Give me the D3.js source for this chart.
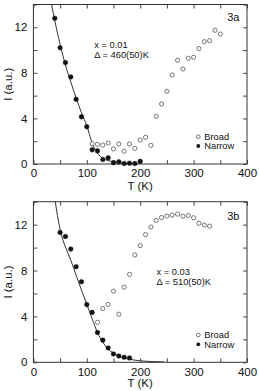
<!DOCTYPE html>
<html><head><meta charset="utf-8">
<script src="https://cdn.jsdelivr.net/npm/d3@7"></script>
<style>
html,body{margin:0;padding:0;background:#fff;}
svg{display:block;font-family:"Liberation Sans",Arial,Helvetica,sans-serif;}
</style></head>
<body>
<svg id="chart" width="259" height="391"></svg>
<script>
// ---- Panel 3a (x = 0.01) ----
const broadT_a = [110,120,130,140,150,160,170,180,190,200,210,220,230,240,250,260,270,280,290,300,310,320,330,340,350];
const broadI_a = [1.78,1.72,1.66,1.84,1.32,1.76,1.12,1.75,1.37,2.1,2.35,1.64,4.18,5.27,6.38,7.81,9.1,8.34,9.28,9.37,10.13,10.74,10.83,11.74,11.41];
const narrowT_a = [40,50,60,70,80,90,100,110,120,130,140,150,160,170,180,190,200];
const narrowI_a = [12.79,10.21,8.9,7.64,5.68,4.14,3.27,1.24,1.15,0.4,0.54,0.12,0.19,0.05,0.07,0.04,0.24];
const fitT_a = [34,40,50,60,70,80,90,100,110,120,130,140,150,160,180,200];
const fitI_a = [14,12.6,10.5,8.7,7.2,5.8,4.5,3.35,1.85,0.95,0.5,0.3,0.2,0.12,0.04,0.01];
// ---- Panel 3b (x = 0.03) ----
const broadT_b = [120,130,140,150,160,170,180,190,200,210,220,230,240,250,260,270,280,290,300,310,320,330];
const broadI_b = [3.49,4.69,5.04,6.2,4.19,6.55,7.67,9.36,10.17,11.13,11.79,12.37,12.62,12.75,12.83,12.92,12.73,12.8,12.6,12.12,11.97,11.87];
const narrowT_b = [50,60,70,80,90,100,110,120,130,140,150,160,170,180];
const narrowI_b = [11.32,10.97,9.87,8.33,7.02,5.03,4.35,2.6,1.93,1.25,0.73,0.55,0.44,0.38];
const fitT_b = [41,45,50,55,60,70,80,90,100,110,120,130,140,150,160,180,200,220,245];
const fitI_b = [14,12.8,11.6,10.7,10.05,8.9,7.6,6.3,5.05,3.8,2.6,1.75,1.15,0.8,0.52,0.27,0.13,0.07,0.03];
// ---- Axis ticks / labels ----
const xLabelTicks = [0,100,200,300,400];
const xMinorTicks = [0,50,100,150,200,250,300,350,400];
const yLabelTicks = [0,4,8,12];
const yMinorTicks = [0,2,4,6,8,10,12,14];
const panels = [
  {id:"3a", top:4.5, bottom:164, bT:broadT_a, bI:broadI_a, nT:narrowT_a, nI:narrowI_a, fT:fitT_a, fI:fitI_a,
   note:["x = 0.01","\u0394 = 460(50)K"], noteX:94.3, noteY:48.3, legY:136.7, labelY:20.8, titleOff:26, pad:4.6},
  {id:"3b", top:201.7, bottom:362.3, bT:broadT_b, bI:broadI_b, nT:narrowT_b, nI:narrowI_b, fT:fitT_b, fI:fitI_b,
   note:["x = 0.03","\u0394 = 510(50)K"], noteX:156.5, noteY:275, legY:335, labelY:220, titleOff:24.5, pad:5.6}
];
const svg = d3.select("#chart");
const left = 33.4, right = 247;
const ink = "#111";
const x = d3.scaleLinear().domain([0,400]).range([left,right]);

panels.forEach((p,i)=>{
  const y = d3.scaleLinear().domain([0,14]).range([p.bottom,p.top]);
  const g = svg.append("g");
  const clipId = "clip"+i;
  g.append("clipPath").attr("id",clipId).append("rect")
    .attr("x",left).attr("y",p.top).attr("width",right-left).attr("height",p.bottom-p.top);

  // inward ticks on all four sides
  const tk = 4;
  const ax = [
    g.append("g").attr("transform",`translate(0,${p.bottom})`).call(d3.axisBottom(x).tickValues(xMinorTicks).tickSize(-tk).tickFormat("")),
    g.append("g").attr("transform",`translate(0,${p.top})`).call(d3.axisTop(x).tickValues(xMinorTicks).tickSize(-tk).tickFormat("")),
    g.append("g").attr("transform",`translate(${left},0)`).call(d3.axisLeft(y).tickValues(yMinorTicks).tickSize(-tk).tickFormat("")),
    g.append("g").attr("transform",`translate(${right},0)`).call(d3.axisRight(y).tickValues(yMinorTicks).tickSize(-tk).tickFormat(""))
  ];
  ax.forEach(a=>{a.selectAll("path").remove(); a.selectAll("line").attr("stroke","#333").attr("stroke-width",0.9);});

  // tick labels
  const xl = g.append("g").attr("transform",`translate(0,${p.bottom})`)
    .call(d3.axisBottom(x).tickValues(xLabelTicks).tickSize(0).tickPadding(p.pad).tickFormat(d3.format("d")));
  const yl = g.append("g").attr("transform",`translate(${left},0)`)
    .call(d3.axisLeft(y).tickValues(yLabelTicks).tickSize(0).tickPadding(6).tickFormat(d3.format("d")));
  [xl,yl].forEach(a=>{a.select(".domain").remove(); a.selectAll("text").attr("fill",ink).style("font-size","11.5px").style("font-family","'Liberation Sans',Arial,sans-serif");});

  // frame
  g.append("rect").attr("x",left).attr("y",p.top).attr("width",right-left).attr("height",p.bottom-p.top)
    .attr("fill","none").attr("stroke","#333").attr("stroke-width",1);

  // axis titles
  g.append("text").attr("x",(left+right)/2).attr("y",p.bottom+p.titleOff).attr("text-anchor","middle")
    .attr("fill",ink).style("font-size","11.5px").text("T (K)");
  g.append("text").attr("transform",`translate(12,${(p.top+p.bottom)/2}) rotate(-90)`).attr("text-anchor","middle")
    .attr("fill",ink).style("font-size","11.5px").text("I (a.u.)");

  // fit curve
  const fit = p.fT.map((t,k)=>[t,p.fI[k]]);
  g.append("path").datum(fit).attr("clip-path",`url(#${clipId})`)
    .attr("d",d3.line().x(d=>x(d[0])).y(d=>y(d[1])).curve(d3.curveMonotoneX))
    .attr("fill","none").attr("stroke","#333").attr("stroke-width",1);

  // broad (open)
  g.selectAll(".b").data(p.bT.map((t,k)=>[t,p.bI[k]])).join("circle")
    .attr("cx",d=>x(d[0])).attr("cy",d=>y(d[1])).attr("r",2.1)
    .attr("fill","#fff").attr("stroke","#555").attr("stroke-width",0.8);
  // narrow (filled)
  g.selectAll(".n").data(p.nT.map((t,k)=>[t,p.nI[k]])).join("circle")
    .attr("cx",d=>x(d[0])).attr("cy",d=>y(d[1])).attr("r",2.3)
    .attr("fill","#111").attr("stroke","#111").attr("stroke-width",0.5);

  // annotations
  g.append("text").attr("x",p.noteX).attr("y",p.noteY).attr("fill",ink).style("font-size","9.3px").text(p.note[0]);
  g.append("text").attr("x",p.noteX).attr("y",p.noteY+10).attr("fill",ink).style("font-size","9.3px").text(p.note[1]);
  g.append("text").attr("x",239.5).attr("y",p.labelY).attr("text-anchor","end").attr("fill",ink).style("font-size","11px").text(p.id);

  // legend
  const lx = 198.3;
  g.append("circle").attr("cx",lx).attr("cy",p.legY).attr("r",1.9).attr("fill","#fff").attr("stroke","#555").attr("stroke-width",0.8);
  g.append("circle").attr("cx",lx).attr("cy",p.legY+9.3).attr("r",1.9).attr("fill","#111");
  g.append("text").attr("x",204.3).attr("y",p.legY+3.3).attr("fill",ink).style("font-size","9.3px").text("Broad");
  g.append("text").attr("x",204.3).attr("y",p.legY+12.6).attr("fill",ink).style("font-size","9.3px").text("Narrow");
});
</script>
</body></html>
